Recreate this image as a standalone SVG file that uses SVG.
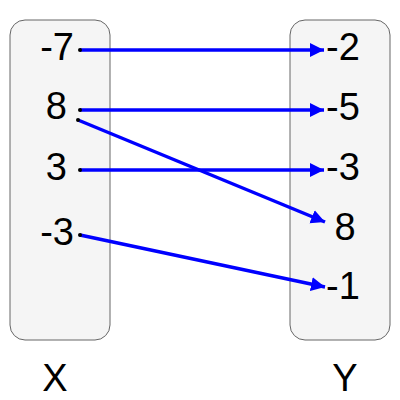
<svg xmlns="http://www.w3.org/2000/svg" width="400" height="400" viewBox="0 0 400 400">
<style>
.box{fill:#f5f5f5;stroke:#666666;stroke-width:1}
.t{font-family:"Liberation Sans",Arial,sans-serif;font-size:38px;fill:#000000}
.e{stroke:#0000ff;stroke-width:3.5;fill:none}
.d{fill:#000000}
</style>
<defs>
<marker id="ah" markerUnits="userSpaceOnUse" markerWidth="15" markerHeight="15" refX="14" refY="7" orient="auto" viewBox="0 0 15 14">
<path d="M0,0 L14,7 L0,14 Z" fill="#0000ff"/>
</marker>
</defs>
<g id="X">
<rect class="box" x="10" y="20" width="100" height="320" rx="15" ry="15"/>
<text class="t" x="74" y="60" text-anchor="end">-7</text>
<text class="t" x="67" y="119" text-anchor="end">8</text>
<text class="t" x="67" y="180" text-anchor="end">3</text>
<text class="t" x="74" y="245" text-anchor="end">-3</text>
</g>
<g id="Y">
<rect class="box" x="290" y="20" width="100" height="320" rx="15" ry="15"/>
<text class="t" x="326" y="60">-2</text>
<text class="t" x="326" y="120">-5</text>
<text class="t" x="326" y="180">-3</text>
<text class="t" x="345" y="240" text-anchor="middle">8</text>
<text class="t" x="326" y="299">-1</text>
</g>
<g id="labels">
<text class="t" x="55" y="391" text-anchor="middle">X</text>
<text class="t" x="345" y="391" text-anchor="middle">Y</text>
</g>
<g id="connectors">
<line class="e" x1="80" y1="50" x2="324" y2="50" marker-end="url(#ah)"/>
<line class="e" x1="80" y1="110" x2="324" y2="110" marker-end="url(#ah)"/>
<line class="e" x1="78" y1="120" x2="325" y2="222" marker-end="url(#ah)"/>
<line class="e" x1="80" y1="170" x2="324" y2="170" marker-end="url(#ah)"/>
<line class="e" x1="80" y1="235" x2="325" y2="287" marker-end="url(#ah)"/>
<circle class="d" cx="80" cy="50" r="2"/>
<circle class="d" cx="80" cy="110" r="2"/>
<circle class="d" cx="78" cy="120" r="2"/>
<circle class="d" cx="80" cy="170" r="2"/>
<circle class="d" cx="80" cy="235" r="2"/>
</g>
</svg>
